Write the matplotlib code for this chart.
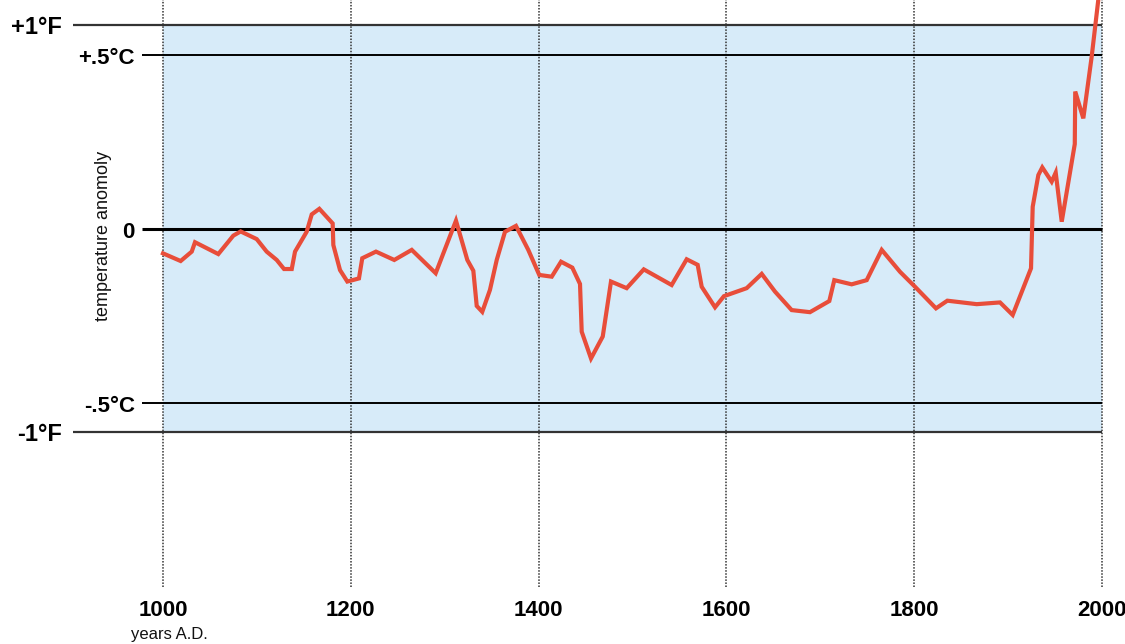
import matplotlib
matplotlib.use("Agg")
import matplotlib.pyplot as plt

# ---- data ----
years = [1000, 1018.8, 1030.6, 1034.1, 1058.9, 1074.9, 1082.7, 1099.8, 1110.4, 1121.1,
         1128.9, 1137.1, 1140.6, 1153.0, 1158.4, 1166.5, 1180.7, 1181.4, 1188.5, 1196.3,
         1208.7, 1212.2, 1226.8, 1246.3, 1264.9, 1290.4, 1312.0, 1324.1, 1330.5, 1334.1,
         1340.0, 1348.2, 1355.4, 1364.2, 1375.9, 1389.0, 1400.7, 1414.0, 1423.9, 1435.9,
         1444.1, 1445.9, 1455.8, 1468.3, 1477.1, 1493.8, 1512.0, 1541.7, 1557.7, 1569.4,
         1573.7, 1587.9, 1597.4, 1621.6, 1637.6, 1651.8, 1669.5, 1689.0, 1709.6, 1714.9,
         1733.4, 1749.4, 1765.4, 1784.9, 1800.9, 1823.2, 1835.3, 1866.6, 1891.4, 1904.9,
         1924.4, 1926.2, 1932.2, 1936.4, 1946.4, 1950.7, 1957.1, 1971.0, 1971.5, 1980.1,
         1989.0, 2000]
anomaly = [-0.070, -0.092, -0.065, -0.038, -0.072, -0.019, -0.007, -0.029, -0.065, -0.089,
           -0.115, -0.115, -0.065, -0.008, 0.042, 0.058, 0.016, -0.046, -0.118, -0.151,
           -0.142, -0.084, -0.065, -0.089, -0.060, -0.127, 0.024, -0.089, -0.120, -0.221,
           -0.238, -0.175, -0.089, -0.008, 0.009, -0.060, -0.132, -0.137, -0.094, -0.111,
           -0.158, -0.295, -0.372, -0.309, -0.151, -0.170, -0.116, -0.161, -0.087, -0.103,
           -0.166, -0.225, -0.193, -0.170, -0.129, -0.180, -0.233, -0.239, -0.207, -0.147,
           -0.159, -0.147, -0.060, -0.123, -0.166, -0.228, -0.206, -0.216, -0.211, -0.247,
           -0.113, 0.064, 0.155, 0.177, 0.136, 0.162, 0.021, 0.244, 0.395, 0.318,
           0.495, 0.75]

x_ticks = [1000, 1200, 1400, 1600, 1800, 2000]
x_tick_labels = ["1000", "1200", "1400", "1600", "1800", "2000"]
c_levels = [0.5, -0.5]
c_labels = ["+.5°C", "-.5°C"]
f_levels = [0.586, -0.583]
f_labels = ["+1°F", "-1°F"]

# ---- figure ----
W, H = 1125, 644
fig = plt.figure(figsize=(W / 100, H / 100), dpi=100)
ax = fig.add_axes([0, 0, 1, 1])
ax.set_axis_off()

px_per_year = 0.939
px_per_deg = 348.0
x0_px, y0_px = 163, 229
ax.set_xlim(1000 - x0_px / px_per_year, 2000 + (W - 1102) / px_per_year)
ax.set_ylim((y0_px - H) / px_per_deg, y0_px / px_per_deg)

def px2year(px):
    return 1000 + (px - x0_px) / px_per_year

bold = dict(family=["Liberation Sans", "DejaVu Sans"], weight="bold", color="black")
reg = dict(family=["Liberation Sans", "DejaVu Sans"], color="#111111")

# band
ax.fill_between([1000, 2000], f_levels[1], f_levels[0], color="#d7ebf9", lw=0, zorder=0)

# vertical dotted lines
for xt in x_ticks:
    ax.vlines(xt, (y0_px - 587) / px_per_deg, 1.0, colors="#333333", lw=1.1,
              linestyles=(0, (1, 1)), zorder=1)

# horizontal lines
for lv in f_levels:
    ax.hlines(lv, px2year(73), 2000, colors="#333333", lw=1.6, zorder=2)
for lv in c_levels:
    ax.hlines(lv, px2year(142), 2000, colors="black", lw=1.4, zorder=2)
ax.hlines(0, px2year(142), 2000, colors="black", lw=2.2, zorder=2)

# data line
ax.plot(years, anomaly, color="#e84d3a", lw=3.0, solid_joinstyle="miter", zorder=3)

# y labels
base_off = 9 / px_per_deg
for lv, lab in zip(f_levels, f_labels):
    ax.text(px2year(62), lv - base_off, lab, ha="right", va="baseline", fontsize=17, **bold)
for lv, lab in zip(c_levels, c_labels):
    ax.text(px2year(135), lv - base_off, lab, ha="right", va="baseline", fontsize=16, **bold)
ax.text(px2year(134), 0 - base_off, "0", ha="right", va="baseline", fontsize=16, **bold)

# x labels
for xt, lab in zip(x_ticks, x_tick_labels):
    ax.text(xt, (y0_px - 616) / px_per_deg, lab, ha="center", va="baseline", fontsize=16, **bold)
ax.text(px2year(131), (y0_px - 639) / px_per_deg, "years A.D.", ha="left", va="baseline",
        fontsize=12, **reg)

ax.text(px2year(104), (y0_px - 236) / px_per_deg, "temperature anomoly", rotation=90,
        ha="center", va="center", fontsize=13, **reg)

fig.savefig("out.png", dpi=100)
